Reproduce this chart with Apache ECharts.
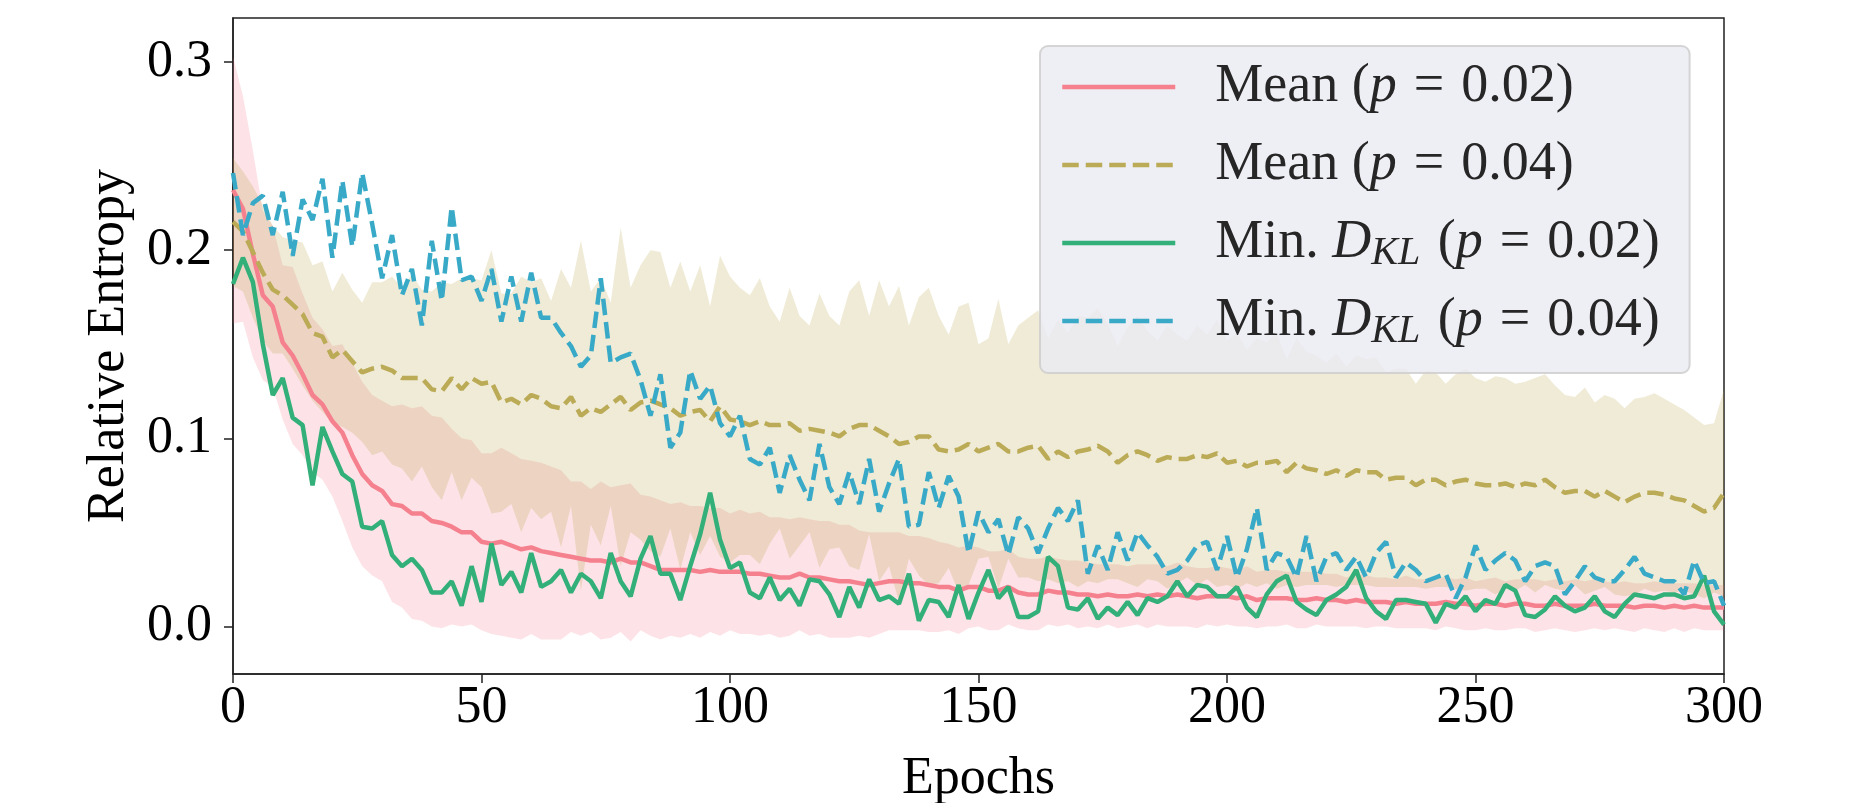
<!DOCTYPE html>
<html>
<head>
<meta charset="utf-8">
<title>Relative Entropy</title>
<script src="https://cdn.jsdelivr.net/npm/echarts@6/dist/echarts.min.js"></script>
<style>
  html, body { margin: 0; padding: 0; background: #fff; }
  #chartmain { width: 1854px; height: 803px; }
</style>
</head>
<body>
<div id="chartmain"></div>
<script>
// values stored every 2 epochs (0, 2, ..., 300)
var step = 2;

// Mean (p = 0.02) and its spread
var mean02 = [
  .232,.222,.198,.176,.170,.151,.144,.134,.123,.118,
  .109,.103,.091,.081,.075,.072,.065,.064,.060,.060,
  .056,.055,.053,.050,.050,.045,.044,.045,.043,.041,
  .042,.040,.039,.038,.037,.036,.035,.035,.034,.036,
  .034,.034,.032,.030,.030,.030,.030,.029,.030,.029,
  .029,.029,.028,.028,.027,.026,.026,.028,.026,.026,
  .025,.024,.024,.023,.022,.023,.024,.024,.023,.023,
  .022,.021,.021,.019,.021,.021,.019,.019,.021,.018,
  .017,.017,.019,.018,.018,.017,.017,.016,.017,.016,
  .016,.017,.016,.017,.016,.017,.016,.015,.016,.016,
  .016,.015,.016,.014,.015,.015,.015,.014,.014,.015,
  .014,.014,.013,.014,.013,.013,.013,.012,.013,.012,
  .012,.012,.013,.012,.012,.011,.012,.012,.011,.012,
  .012,.011,.011,.012,.011,.011,.011,.012,.011,.011,
  .011,.010,.011,.011,.010,.011,.010,.011,.010,.010,
  .010
];
var std02 = [
  .071,.060,.055,.045,.043,.041,.047,.043,.041,.040,
  .040,.047,.049,.049,.048,.048,.052,.054,.056,.057,
  .056,.056,.052,.050,.049,.047,.048,.050,.049,.048,
  .046,.047,.046,.045,.040,.041,.038,.042,.040,.039,
  .042,.036,.037,.037,.035,.036,.034,.035,.033,.034,
  .031,.033,.032,.033,.031,.032,.031,.030,.031,.030,
  .031,.030,.030,.028,.028,.027,.026,.026,.025,.025,
  .025,.024,.023,.023,.022,.021,.021,.021,.020,.019,
  .019,.019,.018,.018,.017,.018,.017,.017,.016,.017,
  .016,.016,.017,.016,.016,.017,.016,.016,.015,.016,
  .015,.015,.016,.015,.015,.015,.014,.015,.015,.014,
  .014,.014,.013,.014,.014,.013,.013,.013,.014,.013,
  .013,.014,.013,.013,.014,.013,.013,.014,.013,.013,
  .013,.014,.013,.013,.013,.014,.013,.013,.013,.012,
  .013,.013,.012,.013,.013,.012,.013,.012,.012,.012,
  .012
];

// Mean (p = 0.04) and its spread
var mean04 = [
  .215,.210,.199,.188,.179,.176,.171,.166,.156,.154,
  .143,.147,.141,.135,.137,.138,.136,.132,.132,.132,
  .126,.125,.132,.126,.132,.129,.130,.119,.121,.118,
  .123,.121,.117,.116,.122,.112,.116,.114,.118,.122,
  .115,.119,.120,.118,.116,.112,.114,.115,.109,.117,
  .110,.109,.107,.109,.107,.107,.108,.104,.105,.104,
  .103,.101,.105,.107,.107,.104,.101,.097,.098,.101,
  .101,.094,.093,.094,.097,.093,.095,.097,.093,.093,
  .095,.096,.089,.093,.090,.093,.094,.096,.093,.087,
  .091,.093,.091,.088,.090,.089,.089,.091,.090,.092,
  .087,.088,.085,.087,.087,.088,.082,.087,.084,.083,
  .081,.083,.080,.083,.082,.082,.078,.079,.079,.075,
  .078,.078,.075,.077,.078,.076,.075,.075,.076,.074,
  .076,.075,.078,.074,.071,.072,.072,.069,.072,.069,
  .066,.069,.071,.071,.070,.068,.067,.064,.061,.063,
  .071
];
var std04 = [
  .034,.032,.035,.036,.034,.031,.034,.038,.036,.040,
  .035,.041,.038,.037,.046,.045,.050,.048,.055,.047,
  .052,.058,.050,.059,.053,.055,.070,.058,.056,.068,
  .060,.064,.056,.074,.058,.093,.062,.071,.054,.090,
  .065,.073,.080,.081,.064,.082,.064,.077,.061,.080,
  .076,.071,.069,.076,.063,.055,.072,.061,.055,.073,
  .062,.059,.073,.077,.058,.080,.069,.084,.062,.074,
  .079,.071,.062,.076,.075,.057,.058,.077,.057,.067,
  .069,.072,.064,.070,.066,.072,.070,.073,.068,.062,
  .068,.072,.066,.064,.070,.066,.063,.069,.065,.071,
  .065,.068,.062,.066,.064,.068,.060,.066,.062,.061,
  .059,.062,.058,.061,.060,.061,.057,.058,.058,.054,
  .058,.057,.054,.057,.059,.056,.055,.058,.056,.055,
  .054,.057,.056,.054,.052,.050,.055,.050,.051,.052,
  .050,.052,.051,.053,.051,.050,.048,.047,.046,.045,
  .055
];

// Min. D_KL (p = 0.02)
var min02 = [
  .182,.196,.183,.150,.123,.132,.111,.107,.075,.106,
  .093,.081,.077,.053,.052,.056,.038,.032,.036,.030,
  .018,.018,.024,.011,.032,.013,.044,.022,.029,.018,
  .039,.021,.024,.030,.018,.028,.024,.015,.039,.024,
  .016,.036,.048,.028,.028,.014,.032,.049,.071,.046,
  .031,.034,.018,.015,.026,.014,.020,.011,.025,.024,
  .017,.005,.021,.010,.025,.014,.016,.012,.028,.003,
  .014,.013,.005,.022,.004,.018,.030,.015,.021,.005,
  .005,.008,.037,.032,.010,.009,.015,.004,.010,.006,
  .013,.006,.015,.013,.016,.024,.016,.022,.021,.016,
  .016,.021,.010,.005,.017,.024,.027,.013,.009,.006,
  .014,.017,.021,.030,.015,.008,.004,.014,.014,.013,
  .012,.002,.012,.010,.016,.008,.014,.012,.022,.019,
  .006,.005,.009,.016,.011,.008,.010,.016,.008,.005,
  .012,.017,.016,.015,.017,.017,.015,.016,.027,.008,
  .001
];

// Min. D_KL (p = 0.04)
var min04 = [
  .241,.208,.225,.229,.208,.231,.197,.227,.216,.238,
  .196,.237,.202,.241,.214,.185,.208,.176,.190,.160,
  .205,.173,.223,.184,.186,.173,.190,.162,.186,.162,
  .188,.164,.164,.156,.149,.138,.144,.185,.140,.143,
  .145,.131,.112,.134,.095,.103,.136,.121,.128,.108,
  .101,.112,.089,.086,.095,.071,.091,.078,.067,.097,
  .074,.065,.082,.065,.089,.061,.076,.089,.053,.054,
  .082,.063,.080,.069,.039,.061,.050,.057,.038,.058,
  .052,.039,.052,.063,.056,.067,.028,.043,.030,.050,
  .035,.050,.043,.037,.028,.030,.035,.043,.045,.030,
  .048,.026,.041,.063,.030,.039,.037,.026,.048,.024,
  .037,.039,.030,.037,.026,.039,.045,.026,.034,.030,
  .024,.026,.028,.015,.026,.043,.030,.035,.039,.035,
  .024,.032,.034,.032,.017,.024,.032,.026,.024,.024,
  .030,.037,.028,.026,.024,.024,.017,.035,.023,.024,
  .011
];

var yTicks = [0, 0.1, 0.2, 0.3];
var names = ['Mean (p = 0.02)', 'Mean (p = 0.04)', 'Min. D_KL (p = 0.02)', 'Min. D_KL (p = 0.04)'];
var colors = ['#f5818f', '#bbab57', '#33b07a', '#38a9c7'];

var epochs = [];
for (var i = 0; i < mean02.length; i++) epochs.push(i * step);

function pairs(vals) {
  var out = [];
  for (var i = 0; i < vals.length; i++) out.push([epochs[i], vals[i]]);
  return out;
}

// filled mean +/- std band, one polygon through the axis scales
function band(mean, sd, fill) {
  return {
    type: 'custom',
    silent: true,
    z: 1,
    data: [[0, 0]],
    renderItem: function (params, api) {
      var pts = [];
      for (var i = 0; i < mean.length; i++) pts.push(api.coord([epochs[i], mean[i] + sd[i]]));
      for (var j = mean.length - 1; j >= 0; j--) pts.push(api.coord([epochs[j], mean[j] - sd[j]]));
      return { type: 'polygon', shape: { points: pts }, style: { fill: fill } };
    }
  };
}

function line(name, vals, color, dashed) {
  return {
    name: name,
    type: 'line',
    data: pairs(vals),
    showSymbol: false,
    symbol: 'none',
    z: 3,
    itemStyle: { color: color },
    lineStyle: { color: color, width: 4.5, type: dashed ? [16.5, 7] : 'solid' }
  };
}

var serif = "'Liberation Serif', 'DejaVu Serif', serif";
var legendText = {
  'Mean (p = 0.02)': '{sp| }Mean ({it|p}{eq|=}0.02)',
  'Mean (p = 0.04)': '{sp| }Mean ({it|p}{eq|=}0.04)',
  'Min. D_KL (p = 0.02)': '{sp| }Min. {it|D}{sub|KL} ({it|p}{eq|=}0.02)',
  'Min. D_KL (p = 0.04)': '{sp| }Min. {it|D}{sub|KL} ({it|p}{eq|=}0.04)'
};

var myChart = echarts.init(document.getElementById('chartmain'));
var option = {
  backgroundColor: '#fff',
  animation: false,
  grid: {
    left: 233, right: 130, top: 18, bottom: 129,
    outerBoundsMode: 'none',
    show: true, borderColor: '#222', borderWidth: 1.5, backgroundColor: 'transparent'
  },
  legend: {
    orient: 'vertical',
    left: 1040, top: 46,
    padding: [11, 30, 22, 20],
    itemWidth: 113, itemHeight: 14, itemGap: 18,
    backgroundColor: 'rgba(234,234,242,0.8)',
    borderColor: 'rgba(204,204,204,0.8)', borderWidth: 2, borderRadius: 8,
    data: names,
    itemStyle: { opacity: 0 },
    lineStyle: { width: 4.5 },
    formatter: function (n) { return legendText[n]; },
    textStyle: {
      fontFamily: serif, fontSize: 54, color: '#262626', lineHeight: 60,
      rich: {
        sp: { width: 35, fontSize: 54, fontFamily: serif, lineHeight: 60 },
        it: { fontStyle: 'italic', fontSize: 54, fontFamily: serif, color: '#262626', lineHeight: 60 },
        eq: { fontSize: 54, fontFamily: serif, color: '#262626', padding: [0, 17, 0, 17], lineHeight: 60 },
        sub: { fontStyle: 'italic', fontSize: 40, fontFamily: serif, color: '#262626', lineHeight: 30, verticalAlign: 'bottom', padding: [0, 4, 0, 0] }
      }
    }
  },
  xAxis: {
    type: 'value', min: 0, max: 300, interval: 50,
    name: 'Epochs', nameLocation: 'middle', nameGap: 79,
    nameTextStyle: { fontFamily: serif, fontSize: 52, color: '#000' },
    axisLine: { show: true, onZero: false, lineStyle: { color: '#222', width: 1.5 } },
    axisTick: { show: true, length: 9, lineStyle: { color: '#222', width: 1.5 } },
    axisLabel: { fontFamily: serif, fontSize: 52, color: '#000', margin: 8 },
    splitLine: { show: false }
  },
  yAxis: {
    type: 'value', min: -0.0253, max: 0.3234,
    name: 'Relative Entropy', nameLocation: 'middle', nameGap: 98,
    nameTextStyle: { fontFamily: serif, fontSize: 52, color: '#000' },
    axisLine: { show: true, onZero: false, lineStyle: { color: '#222', width: 1.5 } },
    axisTick: { show: true, length: 9, customValues: yTicks, lineStyle: { color: '#222', width: 1.5 } },
    axisLabel: {
      fontFamily: serif, fontSize: 52, color: '#000', margin: 21,
      customValues: yTicks,
      formatter: function (v) { return v.toFixed(1); }
    },
    splitLine: { show: false }
  },
  series: [
    band(mean02, std02, 'rgba(247,113,137,0.2)'),
    band(mean04, std04, 'rgba(174,157,49,0.2)'),
    line(names[0], mean02, colors[0], false),
    line(names[1], mean04, colors[1], true),
    line(names[2], min02, colors[2], false),
    line(names[3], min04, colors[3], true)
  ]
};
myChart.setOption(option);
</script>
</body>
</html>
